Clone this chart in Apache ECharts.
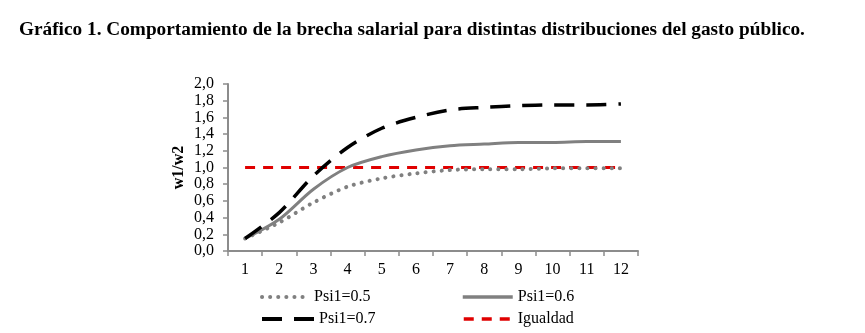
<!DOCTYPE html>
<html><head><meta charset="utf-8">
<script src="https://cdn.jsdelivr.net/npm/echarts@6/dist/echarts.min.js"></script>
<style>html,body{margin:0;padding:0;background:#fff}#c{width:865px;height:333px}</style>
</head><body><div id="c"></div>
<script>
const categories = ['1','2','3','4','5','6','7','8','9','10','11','12'];
const psi05 = [0.15,0.34,0.58,0.77,0.87,0.93,0.97,0.98,0.98,0.99,0.99,0.99];
const psi06 = [0.15,0.38,0.74,1.00,1.13,1.21,1.26,1.28,1.30,1.30,1.31,1.31];
const psi07 = [0.15,0.46,0.90,1.24,1.47,1.60,1.69,1.72,1.74,1.75,1.75,1.76];
const igualdad = [1,1,1,1,1,1,1,1,1,1,1,1];
const yTicks = {min:0, max:2, interval:0.2};

const chart = echarts.init(document.getElementById('c'));
const serif = "'Liberation Serif', 'DejaVu Serif', serif";
const axisColor = '#8c8c8c';
function leg(name, left, top, w, lw){
  return {data:[name], left:left, top:top, padding:0, itemWidth:w, itemHeight:4, itemGap:0,
    itemStyle:{opacity:0}, lineStyle:{width:lw},
    textStyle:{fontFamily:serif, fontSize:16, color:'#000'}};
}
chart.setOption({
  animation:false,
  title:{text:'Gráfico 1. Comportamiento de la brecha salarial para distintas distribuciones del gasto público.',
    left:14, top:16, textStyle:{fontFamily:serif, fontWeight:'bold', fontSize:19.3, color:'#000'}},
  grid:{left:228, right:227, top:84, bottom:82},
  legend:[
    leg('Psi1=0.5', 260, 289, 47, 4),
    leg('Psi1=0.6', 461, 289, 50, 3.5),
    leg('Psi1=0.7', 260, 311, 52, 4),
    leg('Igualdad', 462, 311, 49, 3.5)
  ],
  xAxis:{type:'category', data:categories, boundaryGap:true,
    axisLine:{lineStyle:{color:axisColor, width:2}},
    axisTick:{show:true, length:5, lineStyle:{color:axisColor, width:1.5}},
    axisLabel:{fontFamily:serif, fontSize:16, color:'#000', margin:11}},
  yAxis:{type:'value', min:yTicks.min, max:yTicks.max, interval:yTicks.interval,
    name:'w1/w2', nameLocation:'middle', nameGap:41, nameRotate:90,
    nameTextStyle:{fontFamily:serif, fontWeight:'bold', fontSize:16, color:'#000'},
    axisLine:{show:true, lineStyle:{color:axisColor, width:2}},
    axisTick:{show:true, length:5, lineStyle:{color:axisColor, width:1.5}},
    splitLine:{show:false},
    axisLabel:{fontFamily:serif, fontSize:16, color:'#000', margin:14,
      formatter:v=>v.toFixed(1).replace('.',',')}},
  series:[
    {name:'Psi1=0.5', type:'line', data:psi05, symbol:'none', smooth:0.3, z:3,
     lineStyle:{color:'#808080', width:4, type:[0.1,8], cap:'round'}, itemStyle:{color:'#808080'}},
    {name:'Psi1=0.6', type:'line', data:psi06, symbol:'none', smooth:0.3, z:2,
     lineStyle:{color:'#808080', width:3}, itemStyle:{color:'#808080'}},
    {name:'Psi1=0.7', type:'line', data:psi07, symbol:'none', smooth:0.3, z:4,
     lineStyle:{color:'#000', width:3.5, type:[20,12]}, itemStyle:{color:'#000'}},
    {name:'Igualdad', type:'line', data:igualdad, symbol:'none', z:1,
     lineStyle:{color:'#e00000', width:3, type:[10,8]}, itemStyle:{color:'#e00000'}}
  ]
});
</script></body></html>
